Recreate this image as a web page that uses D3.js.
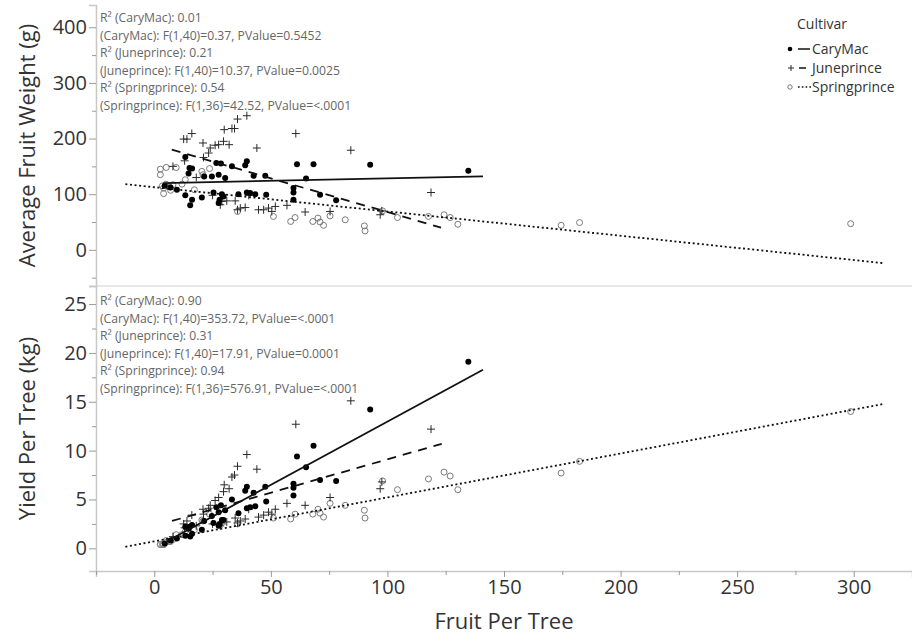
<!DOCTYPE html>
<html>
<head>
<meta charset="utf-8">
<script src="https://cdn.jsdelivr.net/npm/d3@7"></script>
<style>
  html, body { margin: 0; padding: 0; background: #fff; }
  svg { display: block; font-family: "Open Sans", "Noto Sans", sans-serif; }
</style>
</head>
<body>
<svg id="chart" width="912" height="635"></svg>
<script>
// ---------------- DATA ----------------
// CaryMac: fruit per tree, average fruit weight (g), yield per tree (kg)
const caryFruit  = [4.5, 7.0, 9.7, 13.3, 13.3, 15.1, 16.2, 14.7, 16.2, 15.4, 20.4, 21.4, 24.7, 25.4, 26.6, 28.6, 27.6, 29.0, 29.7, 28.0, 27.6, 30.4, 33.3, 36.1, 39.7, 39.0, 39.7, 41.1, 43.3, 42.6, 47.6, 48.0, 59.7, 59.7, 59.7, 61.2, 65.1, 68.3, 71.1, 78.0, 92.6, 134.7];
const caryWeight = [115, 112, 108, 167, 98, 147, 146, 137, 90, 80, 94, 132, 132, 103, 156, 155, 135, 100, 96, 90, 84, 129, 150, 100, 159, 152, 103, 102, 100, 133, 133, 99, 111, 103, 90, 154, 128, 154, 99, 89, 153, 142];
const caryYield  = [0.5, 0.8, 1.0, 2.2, 1.3, 2.2, 2.4, 2.0, 1.5, 1.2, 1.9, 2.8, 3.3, 2.6, 4.2, 4.4, 3.7, 2.9, 2.9, 2.5, 2.3, 3.9, 5.0, 3.6, 6.3, 5.9, 4.1, 4.2, 4.3, 5.7, 6.3, 4.8, 6.6, 6.2, 5.4, 9.4, 8.3, 10.5, 7.0, 6.9, 14.2, 19.1];

// Juneprince
const juneFruit  = [35.7, 39.7, 12.6, 14.0, 16.1, 30.0, 33.3, 34.4, 20.9, 24.0, 26.1, 27.6, 29.7, 32.1, 23.3, 21.1, 44.0, 60.7, 84.3, 29.0, 28.3, 31.1, 34.7, 35.7, 36.9, 39.0, 44.7, 46.9, 49.0, 50.4, 51.9, 56.9, 64.7, 75.4, 96.9, 97.6, 118.7, 8.0, 13.0, 18.0, 25.0, 40.5];
const juneWeight = [235, 241, 199, 199, 209, 216, 218, 218, 192, 183, 188, 189, 195, 189, 174, 166, 183, 209, 179, 87, 81, 88, 88, 72, 75, 76, 72, 72, 75, 69, 78, 80, 68, 69, 63, 70, 103, 150, 160, 130, 98, 98];
const juneYield  = [8.4, 9.6, 2.5, 2.8, 3.4, 6.5, 7.3, 7.5, 4.0, 4.4, 4.9, 5.2, 5.8, 6.1, 4.1, 3.5, 8.1, 12.7, 15.1, 2.5, 2.3, 2.7, 3.1, 2.6, 2.8, 3.0, 3.2, 3.4, 3.7, 3.5, 4.0, 4.6, 4.4, 5.2, 6.1, 6.8, 12.2, 1.2, 2.1, 2.3, 2.5, 4.0];

// Springprince
const springFruit  = [2.6, 5.1, 2.6, 9.4, 4.0, 4.0, 3.5, 5.0, 6.5, 8.0, 11.9, 13.3, 17.2, 20.4, 23.7, 20.9, 7.0, 35.7, 51.1, 58.5, 60.4, 68.0, 70.2, 71.1, 72.6, 75.4, 81.9, 90.1, 90.4, 97.9, 104.3, 117.6, 124.3, 126.9, 130.2, 174.5, 182.4, 298.7];
const springWeight = [145, 148, 135, 148, 101, 111, 115, 118, 113, 117, 118, 126, 108, 141, 146, 135, 107, 69, 60, 51, 58, 51, 57, 50, 44, 61, 54, 43, 34, 70, 58, 60, 63, 58, 46, 44, 49, 47];
const springYield  = [0.4, 0.8, 0.4, 1.4, 0.4, 0.4, 0.4, 0.6, 0.7, 0.9, 1.4, 1.7, 1.9, 2.9, 3.5, 2.8, 0.7, 2.5, 3.1, 3.0, 3.5, 3.5, 4.0, 3.6, 3.2, 4.6, 4.4, 3.9, 3.1, 6.9, 6.0, 7.1, 7.8, 7.4, 6.0, 7.7, 8.9, 14.0];

// Fitted lines (end points in data units)
const caryFitWeight   = [[4, 120], [141, 132]];
const juneFitWeight   = [[7.5, 180], [123, 40]];
const springFitWeight = [[-12.4, 118], [313, -24]];
const caryFitYield    = [[3.3, 0.44], [141, 18.27]];
const juneFitYield    = [[7.6, 2.8], [123.3, 10.7]];
const springFitYield  = [[-12.4, 0.16], [313.3, 14.8]];

// Axis ticks
const xTicks = [0, 50, 100, 150, 200, 250, 300];
const xMinorTicks = [-25, 25, 75, 125, 175, 225, 275, 325];
const weightTicks = [0, 100, 200, 300, 400];
const weightMinorTicks = [-50, 50, 150, 250, 350];
const yieldTicks = [0, 5, 10, 15, 20, 25];
const yieldMinorTicks = [2.5, 7.5, 12.5, 17.5, 22.5];

const cultivars = ["CaryMac", "Juneprince", "Springprince"];
const weightStats = [
  "R² (CaryMac): 0.01",
  "(CaryMac): F(1,40)=0.37, PValue=0.5452",
  "R² (Juneprince): 0.21",
  "(Juneprince): F(1,40)=10.37, PValue=0.0025",
  "R² (Springprince): 0.54",
  "(Springprince): F(1,36)=42.52, PValue=<.0001"
];
const yieldStats = [
  "R² (CaryMac): 0.90",
  "(CaryMac): F(1,40)=353.72, PValue=<.0001",
  "R² (Juneprince): 0.31",
  "(Juneprince): F(1,40)=17.91, PValue=0.0001",
  "R² (Springprince): 0.94",
  "(Springprince): F(1,36)=576.91, PValue=<.0001"
];

// ---------------- LAYOUT ----------------
const svg = d3.select("#chart");
const left = 96, right = 912, topY = 5, midY = 286, bottomY = 571;

const x = d3.scaleLinear().domain([-25, 325]).range([left, right]);
const yW = d3.scaleLinear().domain([-65, 440]).range([midY, topY]);
const yY = d3.scaleLinear().domain([-2.32, 26.85]).range([bottomY, midY]);

const axisColor = "#c8c8c8", tickColor = "#9a9a9a", labelColor = "#333";

// panel separator
svg.append("line").attr("x1", left).attr("x2", right).attr("y1", midY).attr("y2", midY)
  .attr("stroke", "#e0e0e0").attr("stroke-width", 1.5);

function styleAxis(g) {
  g.select(".domain").attr("stroke", axisColor).attr("stroke-width", 1.5);
  g.selectAll(".tick line").attr("stroke", tickColor);
  g.selectAll(".tick text").attr("fill", labelColor).style("font-size", "20px")
    .style("font-family", '"Open Sans", sans-serif');
}

// left axes
function leftAxis(scale, major, minor) {
  const gMaj = svg.append("g").attr("transform", `translate(${left},0)`)
    .call(d3.axisLeft(scale).tickValues(major).tickSize(7).tickPadding(2).tickFormat(d3.format("d")));
  styleAxis(gMaj);
  const gMin = svg.append("g").attr("transform", `translate(${left},0)`)
    .call(d3.axisLeft(scale).tickValues(minor).tickSize(4).tickFormat(""));
  gMin.select(".domain").remove();
  gMin.selectAll(".tick line").attr("stroke", tickColor);
}
leftAxis(yW, weightTicks, weightMinorTicks);
leftAxis(yY, yieldTicks, yieldMinorTicks);

// bottom axis
const gx = svg.append("g").attr("transform", `translate(0,${bottomY})`)
  .call(d3.axisBottom(x).tickValues(xTicks).tickSize(6).tickPadding(3).tickFormat(d3.format("d")));
styleAxis(gx);
const gxm = svg.append("g").attr("transform", `translate(0,${bottomY})`)
  .call(d3.axisBottom(x).tickValues(xMinorTicks).tickSize(4).tickFormat(""));
gxm.select(".domain").remove();
gxm.selectAll(".tick line").attr("stroke", tickColor);

// axis titles
svg.append("text").attr("x", (left + right) / 2).attr("y", 629).attr("text-anchor", "middle")
  .attr("fill", labelColor).style("font-size", "22px").text("Fruit Per Tree");
svg.append("text").attr("transform", `translate(35,${(topY + midY) / 2}) rotate(-90)`)
  .attr("text-anchor", "middle").attr("fill", labelColor).style("font-size", "22px")
  .text("Average Fruit Weight (g)");
svg.append("text").attr("transform", `translate(35,${(midY + bottomY) / 2}) rotate(-90)`)
  .attr("text-anchor", "middle").attr("fill", labelColor).style("font-size", "22px")
  .text("Yield Per Tree (kg)");

// stats text
function stats(lines, y0) {
  svg.append("g").selectAll("text").data(lines).join("text")
    .attr("x", 100).attr("y", (d, i) => y0 + i * 17.6)
    .attr("fill", "#666").style("font-size", "12.2px").text(d => d);
}
stats(weightStats, 22);
stats(yieldStats, 305);

// markers
const plusPath = "M-4,0H4M0,-4V4";
function drawPanel(yScale, cf, cv, jf, jv, sf, sv, fits) {
  const g = svg.append("g");
  // Springprince circles
  g.append("g").selectAll("circle").data(sf.map((f, i) => [f, sv[i]])).join("circle")
    .attr("cx", d => x(d[0])).attr("cy", d => yScale(d[1])).attr("r", 3)
    .attr("fill", "none").attr("stroke", "#7a7a7a").attr("stroke-width", 1);
  // Juneprince plus
  g.append("g").selectAll("path").data(jf.map((f, i) => [f, jv[i]])).join("path")
    .attr("transform", d => `translate(${x(d[0])},${yScale(d[1])})`)
    .attr("d", plusPath).attr("stroke", "#2a2a2a").attr("stroke-width", 1).attr("fill", "none");
  // CaryMac dots
  g.append("g").selectAll("circle").data(cf.map((f, i) => [f, cv[i]])).join("circle")
    .attr("cx", d => x(d[0])).attr("cy", d => yScale(d[1])).attr("r", 3).attr("fill", "#000");
  // fit lines
  const line = d3.line().x(d => x(d[0])).y(d => yScale(d[1]));
  const styles = [null, "9,7", "2,2.6"];
  fits.forEach((f, i) => {
    g.append("path").attr("d", line(f)).attr("fill", "none")
      .attr("stroke", "#111").attr("stroke-width", 1.8)
      .attr("stroke-dasharray", styles[i]);
  });
}
drawPanel(yW, caryFruit, caryWeight, juneFruit, juneWeight, springFruit, springWeight,
  [caryFitWeight, juneFitWeight, springFitWeight]);
drawPanel(yY, caryFruit, caryYield, juneFruit, juneYield, springFruit, springYield,
  [caryFitYield, juneFitYield, springFitYield]);

// legend
const lg = svg.append("g");
lg.append("text").attr("x", 797).attr("y", 29).attr("fill", labelColor)
  .style("font-size", "14px").text("Cultivar");
const rowY = [49, 68, 87];
cultivars.forEach((c, i) => {
  const yy = rowY[i];
  if (i === 0) {
    lg.append("circle").attr("cx", 790).attr("cy", yy).attr("r", 2.3).attr("fill", "#000");
    lg.append("line").attr("x1", 798).attr("x2", 810).attr("y1", yy).attr("y2", yy)
      .attr("stroke", "#111").attr("stroke-width", 1.5);
  } else if (i === 1) {
    lg.append("path").attr("transform", `translate(791,${yy})`).attr("d", "M-3,0H3M0,-3V3")
      .attr("stroke", "#2a2a2a").attr("stroke-width", 1);
    lg.append("line").attr("x1", 799).attr("x2", 806).attr("y1", yy).attr("y2", yy)
      .attr("stroke", "#111").attr("stroke-width", 1.5);
  } else {
    lg.append("circle").attr("cx", 790).attr("cy", yy).attr("r", 2.2).attr("fill", "none")
      .attr("stroke", "#7a7a7a").attr("stroke-width", 1);
    lg.append("line").attr("x1", 798).attr("x2", 811).attr("y1", yy).attr("y2", yy)
      .attr("stroke", "#111").attr("stroke-width", 1.5).attr("stroke-dasharray", "1.6,2.2");
  }
  lg.append("text").attr("x", 812).attr("y", yy + 5).attr("fill", labelColor)
    .style("font-size", "14px").text(c);
});
</script>
</body>
</html>
